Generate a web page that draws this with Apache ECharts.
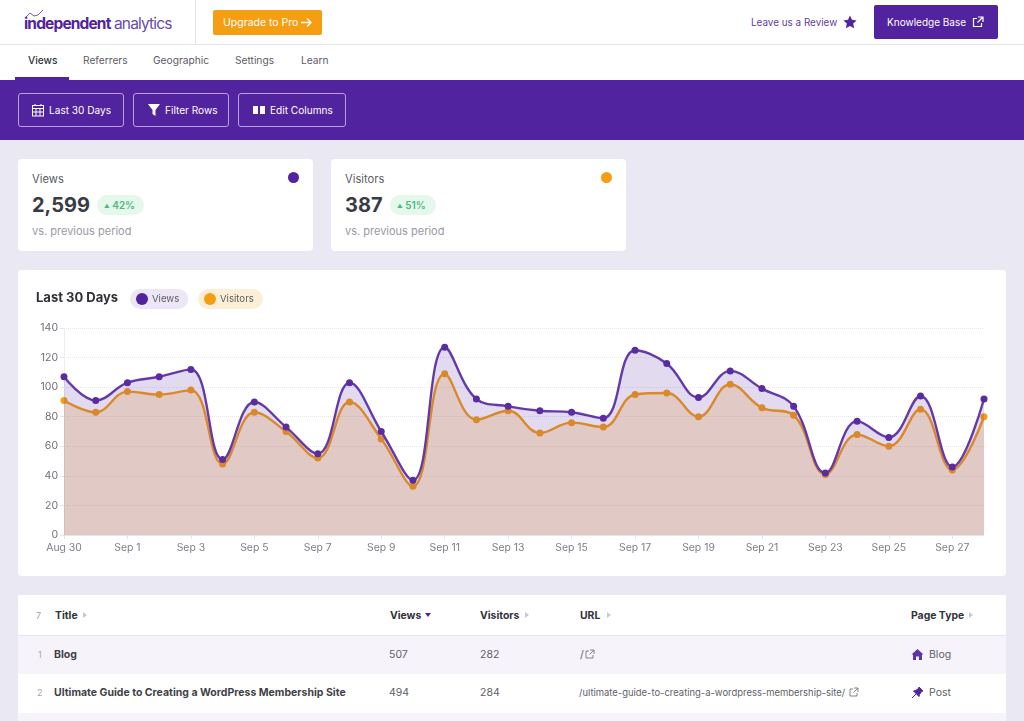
<!DOCTYPE html>
<html>
<head>
<meta charset="utf-8">
<title>Independent Analytics</title>
<script src="https://cdn.jsdelivr.net/npm/echarts@6/dist/echarts.min.js"></script>
<style>
html,body{margin:0;padding:0;width:1024px;height:721px;overflow:hidden;background:#eae8f2;font-family:Inter,"Noto Sans",sans-serif;color:#3a3a44}
.abs{position:absolute;white-space:nowrap}
.white{background:#fff}
.btn{box-sizing:border-box;border:1px solid #b79fe0;border-radius:3px;height:34px;top:93px;color:#fff;font-size:10.1px;line-height:33px}
.btn span{position:absolute;top:0}
.btn svg{position:absolute;top:9px}
.card{background:#fff;border-radius:4px;top:159px;height:92px;width:295px}
.label{font-size:11.2px;color:#5c5c66;top:172px}
.big{font-size:20px;font-weight:700;color:#3a3c44;top:193px}
.pill{top:195px;height:20px;border-radius:10px;background:#e4f8ec;color:#4fb77e;font-size:10px;font-weight:600;line-height:20px}
.sub{font-size:11px;color:#9a9aa3;top:224px}
.th{font-size:10.4px;font-weight:700;color:#33343c;top:609px}
.td{font-size:10.5px;color:#60606a}
.tt{font-size:10.5px;font-weight:700;color:#3f3f48}
.nav{font-size:10.2px;color:#5c5c66;top:54px}
.tri{width:0;height:0;border-left:4px solid #c9c9d0;border-top:3px solid transparent;border-bottom:3px solid transparent;top:612px}
</style>
</head>
<body>
<!-- header -->
<div class="abs white" style="left:0;top:0;width:1024px;height:44px;border-bottom:1px solid #e4e4ea"></div>
<div class="abs" style="left:195px;top:0;width:1px;height:44px;background:#e4e4ea"></div>
<svg class="abs" style="left:25px;top:9px" width="20" height="10"><polyline points="1,8 5,4 9,7 13,6 18,1" fill="none" stroke="#7a55b5" stroke-width="1"/></svg>
<div class="abs" style="left:24px;top:12px;font-size:15.5px;letter-spacing:-0.85px;color:#52239e;line-height:24px"><b>independent</b> <span style="color:#6a4bab;font-weight:400">analytics</span></div>
<div class="abs" style="left:213px;top:10px;width:109px;height:25px;background:#f59e12;border-radius:2px;color:#fff;font-size:10.5px;line-height:25px;text-indent:10px">Upgrade to Pro</div>
<svg class="abs" style="left:300px;top:16px" width="13" height="13"><path d="M1 6.5H11M7 2.5L11 6.5L7 10.5" fill="none" stroke="#fff" stroke-width="1.4"/></svg>
<div class="abs" style="left:751px;top:16px;font-size:9.9px;color:#5f3d9f">Leave us a Review</div>
<svg class="abs" style="left:843px;top:15px" width="14" height="14" viewBox="0 0 24 24"><path d="M12 1l3.4 7.3 7.9 1-5.8 5.4 1.5 7.9-7-3.9-7 3.9 1.5-7.9L.7 9.3l7.9-1z" fill="#52239e"/></svg>
<div class="abs" style="left:874px;top:5px;width:124px;height:34px;background:#52239e;border-radius:2px;color:#fff;font-size:10px;line-height:34px;text-indent:13px">Knowledge Base</div>
<svg class="abs" style="left:972px;top:16px" width="12" height="12"><path d="M5 2.5H1.5V10.500H9.500V7M6 1H11V6M11 1L5.500 6.500" fill="none" stroke="#fff" stroke-width="1.200"/></svg>

<!-- tabs -->
<div class="abs white" style="left:0;top:45px;width:1024px;height:35px"></div>
<div class="abs nav" style="left:28px;color:#33343c;font-weight:500">Views</div>
<div class="abs nav" style="left:83px">Referrers</div>
<div class="abs nav" style="left:153px">Geographic</div>
<div class="abs nav" style="left:235px">Settings</div>
<div class="abs nav" style="left:301px">Learn</div>
<div class="abs" style="left:15px;top:77px;width:54px;height:3px;background:#52239e"></div>

<!-- toolbar -->
<div class="abs" style="left:0;top:80px;width:1024px;height:60px;background:#52239e"></div>
<div class="abs btn" style="left:18px;width:106px"><svg style="left:12px" width="14" height="14"><rect x="1.500" y="2.500" width="11" height="10.500" fill="none" stroke="#fff"/><path d="M1.500 5.500H12.500M5 5.500V13M9 5.500V13M1.500 9H12.500M4 1V3M10 1V3" stroke="#fff" fill="none"/></svg><span style="left:30px">Last 30 Days</span></div>
<div class="abs btn" style="left:133px;width:96px"><svg style="left:13px" width="14" height="14"><path d="M1 1H13L8.500 7V13L5.500 11V7Z" fill="#fff"/></svg><span style="left:31px">Filter Rows</span></div>
<div class="abs btn" style="left:238px;width:108px"><svg style="left:13px" width="14" height="14"><path d="M1 3H6V11H1ZM8 3H13V11H8Z" fill="#fff"/></svg><span style="left:31px">Edit Columns</span></div>

<!-- stat cards -->
<div class="abs card" style="left:18px"></div>
<div class="abs label" style="left:32px">Views</div>
<div class="abs" style="left:288px;top:172px;width:11px;height:11px;border-radius:50%;background:#52239e"></div>
<div class="abs big" style="left:32px">2,599</div>
<div class="abs pill" style="left:97px;width:47px;text-indent:7px"><span style="font-size:5.5px;vertical-align:1px">▲</span> 42%</div>
<div class="abs sub" style="left:32px">vs. previous period</div>

<div class="abs card" style="left:331px"></div>
<div class="abs label" style="left:345px">Visitors</div>
<div class="abs" style="left:601px;top:172px;width:11px;height:11px;border-radius:50%;background:#f59e12"></div>
<div class="abs big" style="left:345px">387</div>
<div class="abs pill" style="left:390px;width:46px;text-indent:7px"><span style="font-size:5.5px;vertical-align:1px">▲</span> 51%</div>
<div class="abs sub" style="left:345px">vs. previous period</div>

<!-- chart -->
<div class="abs white" id="main" style="left:18px;top:270px;width:988px;height:306px;border-radius:4px"></div>

<!-- table -->
<div class="abs white" style="left:18px;top:595px;width:988px;height:40px;border-bottom:1px solid #e6e4ec"></div>
<div class="abs" style="left:18px;top:636px;width:988px;height:38px;background:#f6f4fa"></div>
<div class="abs white" style="left:18px;top:674px;width:988px;height:39px"></div>
<div class="abs" style="left:18px;top:713px;width:988px;height:8px;background:#f6f4fa"></div>

<div class="abs" style="left:36px;top:610px;font-size:9px;color:#a5a5ad">7</div>
<div class="abs th" style="left:55px">Title</div><div class="abs tri" style="left:83px"></div>
<div class="abs th" style="left:390px">Views</div>
<div class="abs" style="left:425px;top:613px;width:0;height:0;border-top:4px solid #52239e;border-left:3px solid transparent;border-right:3px solid transparent"></div>
<div class="abs th" style="left:480px">Visitors</div><div class="abs tri" style="left:525px"></div>
<div class="abs th" style="left:580px">URL</div><div class="abs tri" style="left:607px"></div>
<div class="abs th" style="left:911px">Page Type</div><div class="abs tri" style="left:969px"></div>

<div class="abs" style="left:38px;top:649px;font-size:9px;color:#a5a5ad">1</div>
<div class="abs tt" style="left:54px;top:648px">Blog</div>
<div class="abs td" style="left:389px;top:648px">507</div>
<div class="abs td" style="left:480px;top:648px">282</div>
<div class="abs td" style="left:580px;top:648px">/</div>
<svg class="abs" style="left:585px;top:649px" width="10" height="10"><path d="M4 2H1V9H8V6M5 1H9V5M9 1L4.500 5.500" fill="none" stroke="#777" stroke-width="0.900"/></svg>
<svg class="abs" style="left:911px;top:648px" width="13" height="13"><path d="M6.500 1L12.500 6.500H11V12H8V8.500H5V12H2V6.500H.5Z" fill="#5f35a5"/></svg>
<div class="abs td" style="left:929px;top:648px">Blog</div>

<div class="abs" style="left:37px;top:687px;font-size:9px;color:#a5a5ad">2</div>
<div class="abs tt" style="left:54px;top:686px">Ultimate Guide to Creating a WordPress Membership Site</div>
<div class="abs td" style="left:389px;top:686px">494</div>
<div class="abs td" style="left:480px;top:686px">284</div>
<div class="abs td" style="left:579px;top:687px;font-size:9.45px">/ultimate-guide-to-creating-a-wordpress-membership-site/</div>
<svg class="abs" style="left:849px;top:687px" width="10" height="10"><path d="M4 2H1V9H8V6M5 1H9V5M9 1L4.500 5.500" fill="none" stroke="#777" stroke-width="0.900"/></svg>
<svg class="abs" style="left:911px;top:686px" width="13" height="13"><path d="M8 1L12 5L10.500 5.500L8.500 8.500L8 10.500L2.500 5L4.500 4.500L7.500 2.500ZM5 8L1 12" fill="#52239e" stroke="#52239e"/></svg>
<div class="abs td" style="left:929px;top:686px">Post</div>

<script>
// 图表数据
var days = ['Aug 30','Aug 31','Sep 1','Sep 2','Sep 3','Sep 4','Sep 5','Sep 6','Sep 7','Sep 8',
	'Sep 9','Sep 10','Sep 11','Sep 12','Sep 13','Sep 14','Sep 15','Sep 16','Sep 17','Sep 18',
	'Sep 19','Sep 20','Sep 21','Sep 22','Sep 23','Sep 24','Sep 25','Sep 26','Sep 27','Sep 28'];
var views = [107,91,103,107,112,51,90,73,55,103,70,37,127,92,87,84,83,79,125,116,93,111,99,87,42,77,66,94,46,92];
var visitors = [91,83,97,95,98,48,83,70,52,90,65,33,109,78,84,69,76,73,95,96,80,102,86,81,41,68,60,85,44,80];

var purple = '#52239e';
var orange = '#f59e12';

var myChart = echarts.init(document.getElementById('main'), null, {renderer: 'canvas'});

function legendPill(name, left, width, bg, color) {
	return {
		data: [name],
		left: left,
		top: 19,
		width: width,
		padding: [4, 9, 4, 6],
		backgroundColor: bg,
		borderRadius: 10,
		icon: 'circle',
		itemWidth: 12,
		itemHeight: 12,
		itemGap: 0,
		selectedMode: false,
		itemStyle: {color: color},
		lineStyle: {width: 0},
		textStyle: {color: '#5c5c66', fontSize: 9.6, fontFamily: 'Inter', padding: [0, 0, 0, -1]}
	};
}

myChart.setOption({
	animation: false,
	textStyle: {fontFamily: 'Inter'},
	title: {
		text: 'Last 30 Days',
		left: 18,
		top: 22,
		padding: 0,
		textStyle: {fontSize: 13, fontWeight: 700, color: '#2f3038', fontFamily: 'Inter'}
	},
	legend: [
		legendPill('Views', 112, 42, '#ece6f6', purple),
		legendPill('Visitors', 180, 50, '#fdeed6', orange)
	],
	grid: {left: 46, top: 58, width: 920, height: 207},
	xAxis: {
		type: 'category',
		boundaryGap: false,
		data: days,
		axisLine: {show: true, lineStyle: {color: '#e4e4ea'}},
		axisTick: {show: true, alignWithLabel: true, interval: 1, length: 4, lineStyle: {color: '#e4e4ea'}},
		axisLabel: {interval: 1, color: '#7d7d87', fontSize: 10.4, margin: 8, hideOverlap: false},
		splitLine: {show: false}
	},
	yAxis: {
		type: 'value',
		min: 0,
		max: 140,
		interval: 20,
		axisLine: {show: true, lineStyle: {color: '#eeeef2'}},
		axisTick: {show: true, length: 4, lineStyle: {color: '#e4e4ea'}},
		axisLabel: {color: '#6f6f79', fontSize: 10.5, margin: 6},
		splitLine: {show: true, lineStyle: {type: 'dotted', color: '#e8e6ee'}}
	},
	series: [
		{
			name: 'Visitors',
			type: 'line',
			z: 2,
			smooth: 0.4,
			data: visitors,
			symbol: 'circle',
			symbolSize: 7,
			showAllSymbol: true,
			lineStyle: {width: 2.4, color: orange},
			itemStyle: {color: orange},
			areaStyle: {color: 'rgba(245,158,18,0.21)', opacity: 1, origin: 'start'}
		},
		{
			name: 'Views',
			type: 'line',
			z: 3,
			smooth: 0.4,
			data: views,
			symbol: 'circle',
			symbolSize: 7,
			showAllSymbol: true,
			lineStyle: {width: 2.4, color: '#643aa8'},
			itemStyle: {color: '#5a2ca2'},
			areaStyle: {color: 'rgba(82,35,158,0.17)', opacity: 1, origin: 'start'}
		}
	]
});
</script>
</body>
</html>
